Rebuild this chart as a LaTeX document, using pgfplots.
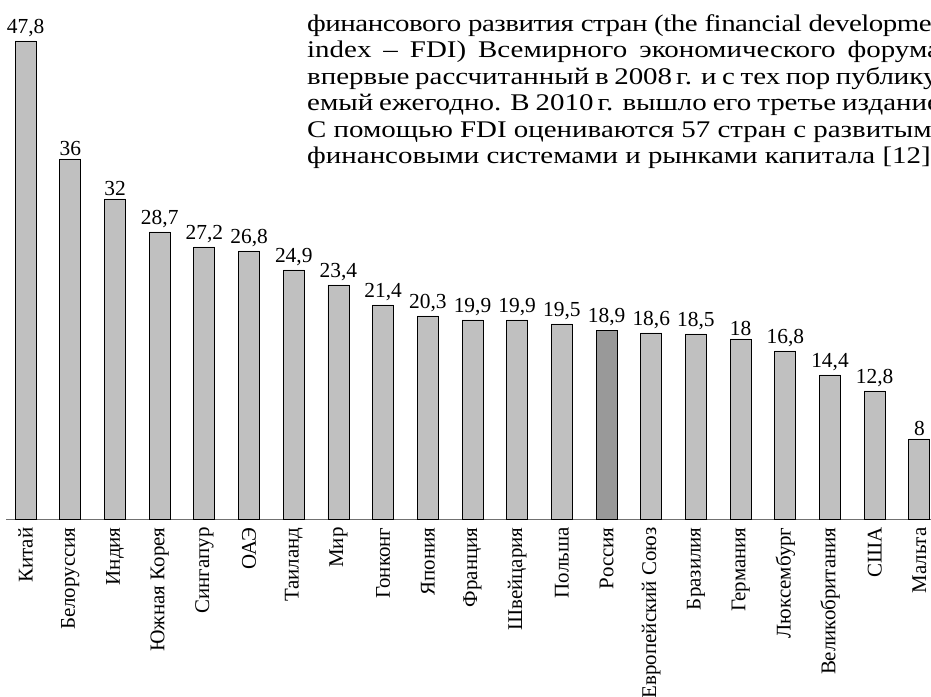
\documentclass[border=0pt]{standalone}
\usepackage{fontspec}
\setmainfont{Liberation Serif}
\newfontfamily\parafont[FakeStretch=1.21]{Liberation Serif}
\newfontfamily\parafonttight[FakeStretch=1.21,LetterSpace=-2]{Liberation Serif}
\usepackage{pgfplots}
\pgfplotsset{compat=1.18}
\definecolor{barlight}{HTML}{C0C0C0}
\definecolor{bardark}{HTML}{999999}
\definecolor{axisgray}{HTML}{707070}
\begin{document}
\begin{tikzpicture}
\useasboundingbox (0,0) rectangle (931bp,697bp);
\begin{axis}[
  at={(6bp,178bp)}, anchor=south west,
  scale only axis, width=925bp, height=500bp,
  xmin=-0.44, xmax=20.26, ymin=0, ymax=50,
  clip=false,
  hide y axis, axis x line*=bottom,
  x axis line style={-, draw=axisgray, line width=0.8bp},
  ybar, bar width=21bp, bar shift=0pt,
  xtick={0,...,20}, major tick length=0pt,
  xticklabels={Китай,Белоруссия,Индия,Южная Корея,Сингапур,ОАЭ,Таиланд,Мир,Гонконг,Япония,Франция,Швейцария,Польша,Россия,Европейский Союз,Бразилия,Германия,Люксембург,Великобритания,США,Мальта},
  xticklabel shift={5bp},
  xticklabel style={rotate=90, anchor=east, font=\fontsize{21}{25}\selectfont},
  nodes near coords,
  every node near coord/.append style={font=\fontsize{21.5}{25}\selectfont, text=black},
  /pgf/number format/use comma,
  /pgf/number format/assume math mode=true,
]
\addplot[draw=black, line width=0.9bp, fill=barlight] coordinates {
  (0,47.8) (1,36) (2,32) (3,28.7) (4,27.2) (5,26.8) (6,24.9) (7,23.4) (8,21.4) (9,20.3)
  (10,19.9) (11,19.9) (12,19.5) (14,18.6) (15,18.5) (16,18) (17,16.8) (18,14.4) (19,12.8) (20,8)
};
\addplot[draw=black, line width=0.9bp, fill=bardark] coordinates {(13,18.9)};
\end{axis}
\begin{scope}[every node/.style={anchor=base west, inner sep=0pt, font=\parafont\fontsize{24}{26}\selectfont}]
\node at (307bp,665.5bp) {\parafonttight\fontsize{24}{26}\selectfont финансового развития стран (the financial development};
\node at (307bp,639bp) {\makebox[640bp][s]{index – FDI) Всемирного экономического форума,}};
\node at (307bp,612.5bp) {\makebox[640bp][s]{впервые рассчитанный в 2008\,г. и с тех пор публику-}};
\node at (307bp,586bp) {\makebox[640bp][s]{емый ежегодно. В 2010\,г. вышло его третье издание.}};
\node at (307bp,559.5bp) {\makebox[640bp][s]{С помощью FDI оцениваются 57 стран с развитыми}};
\node at (307bp,533bp) {финансовыми системами и рынками капитала [12].};
\end{scope}
\end{tikzpicture}
\end{document}
